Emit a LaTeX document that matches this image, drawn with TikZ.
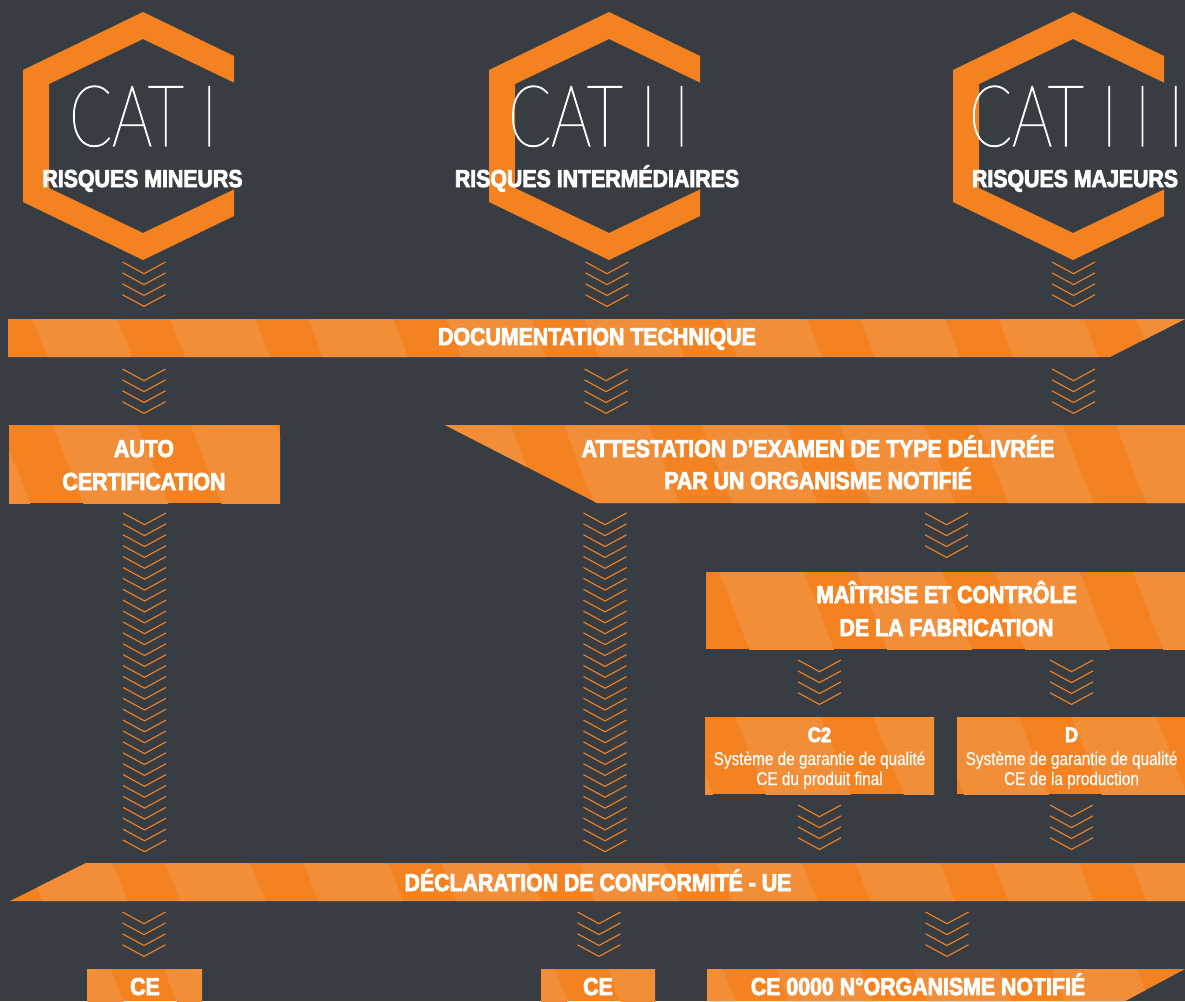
\documentclass[tikz,border=0pt]{standalone}
\usepackage{fontspec}
\setmainfont{Liberation Sans}
\newfontfamily\condbf{Liberation Sans Bold}[FakeStretch=0.87,FakeBold=3.2]
\newfontfamily\condrm{Liberation Sans}[FakeStretch=0.83,FakeBold=0.4]
\IfFontExistsTF{Lato Thin}{\newfontfamily\thinf{Lato Thin}[FakeStretch=0.74,FakeBold=1.2]}{%
 \IfFontExistsTF{Lato Hairline}{\newfontfamily\thinf{Lato Hairline}[FakeStretch=0.74,FakeBold=1.6]}{%
  \IfFontExistsTF{Lato Light}{\newfontfamily\thinf{Lato Light}[FakeStretch=0.74]}{\newfontfamily\thinf{DejaVu Sans}[FakeStretch=0.7]}}}
\definecolor{bg}{RGB}{56,60,67}
\definecolor{orD}{RGB}{245,130,32}
\definecolor{orL}{RGB}{242,141,56}
\newcommand\stripebox[2]{%
  \fill[orD] #1;
  \begin{scope}
    \clip #1;
    \foreach \k in {-5,...,12}{
      \fill[orL] ({#2+138*\k},-10) -- ++(85,0) -- ++(397.8,1020) -- ++(-85,0) -- cycle;
    }
  \end{scope}}
\newcommand\hexa[1]{%
  \begin{scope}
    \clip (#1-130,0) rectangle (#1+91,270);
    \fill[orD,even odd rule] (#1,12) -- (#1+120,70) -- (#1+120,202) -- (#1,260) -- (#1-120,202) -- (#1-120,70) -- cycle
      (#1,39) -- (#1+94,84) -- (#1+94,188) -- (#1,233) -- (#1-94,188) -- (#1-94,84) -- cycle;
  \end{scope}}
\newcommand\chevs[3]{%
  \foreach \k in {1,...,#3}{
    \draw[chev] (#1-21.5,{#2+(\k-1)*10.9}) -- ++(21.5,11.7) -- ++(21.5,-11.7);
  }}
\begin{document}
\begin{tikzpicture}[x=1pt,y=-1pt,
  title/.style={text=white,font=\condbf\fontsize{24.5}{24.5}\selectfont,inner sep=0pt,anchor=base},
  sub/.style={text=white,font=\condrm\fontsize{18.5}{18.5}\selectfont,inner sep=0pt,anchor=base},
  cat/.style={text=white,font=\thinf\fontsize{85}{85}\selectfont,inner sep=0pt,anchor=base west},
  chev/.style={draw=orD,line width=1.1pt,line cap=butt,line join=miter}]
\fill[bg] (0,0) rectangle (1185,1001);
\useasboundingbox (0,0) rectangle (1185,1001);

% hexagons
\hexa{143}
\hexa{609}
\hexa{1073}
\node[cat] (cat1) at (69,146) {CAT I};
\node[cat] (cat2) at (508,146) {CAT I I};
\node[cat] (cat3) at (969,146) {CAT I I I};
\node[title] (r1) at (142.5,187) {RISQUES MINEURS};
\node[title] (r2) at (597,187) {RISQUES INTERMÉDIAIRES};
\node[title] (r3) at (1075,187) {RISQUES MAJEURS};

% bands and boxes
\stripebox{(8,319) -- (1185,319) -- (1110,357) -- (8,357) -- cycle}{-96}
\stripebox{(9,425) rectangle (280,503)}{-117}
\stripebox{(445,425) -- (1185,425) -- (1185,503) -- (597,503) -- cycle}{-20}
\stripebox{(706,572) rectangle (1185,649)}{-60}
\stripebox{(705,717) rectangle (934,794)}{-100}
\stripebox{(957,717) rectangle (1185,794)}{-40}
\stripebox{(86,863) -- (1185,863) -- (1185,901) -- (10,901) -- cycle}{-37}
\stripebox{(87,969) rectangle (202,1001)}{-80}
\stripebox{(541,969) rectangle (655,1001)}{-50}
\stripebox{(707,969) -- (1185,969) -- (1125,1001) -- (707,1001) -- cycle}{-20}

\node[title] (doc) at (597,345) {DOCUMENTATION TECHNIQUE};
\node[title] (auto1) at (144,457) {AUTO};
\node[title] (auto2) at (144,490) {CERTIFICATION};
\node[title] (att1) at (818,457) {ATTESTATION D’EXAMEN DE TYPE DÉLIVRÉE};
\node[title] (att2) at (818,489) {PAR UN ORGANISME NOTIFIÉ};
\node[title] (mc1) at (946.5,603) {MAÎTRISE ET CONTRÔLE};
\node[title] (mc2) at (946.5,636) {DE LA FABRICATION};
\node[title,font=\condbf\fontsize{21}{21}\selectfont] (c2) at (819.5,742) {C2};
\node[sub] (c2a) at (819.5,765) {Système de garantie de qualité};
\node[sub] (c2b) at (819.5,785) {CE du produit final};
\node[title,font=\condbf\fontsize{21}{21}\selectfont] (d) at (1071.5,742) {D};
\node[sub] (da) at (1071.5,765) {Système de garantie de qualité};
\node[sub] (db) at (1071.5,785) {CE de la production};
\node[title] (decl) at (598,891) {DÉCLARATION DE CONFORMITÉ - UE};
\node[title] (ce1) at (145,995) {CE};
\node[title] (ce2) at (598,995) {CE};
\node[title] (ce3) at (918,995) {CE 0000 N°ORGANISME NOTIFIÉ};

% chevrons
\chevs{144}{262}{4}
\chevs{607}{262}{4}
\chevs{1073.5}{262}{4}
\chevs{144}{369}{4}
\chevs{606}{369}{4}
\chevs{1073.5}{369}{4}
\chevs{144.5}{513}{31}
\chevs{605}{513}{31}
\chevs{946.5}{513}{4}
\chevs{819.5}{660}{4}
\chevs{1071.5}{660}{4}
\chevs{819.5}{805}{4}
\chevs{1071.5}{805}{4}
\chevs{144}{912}{4}
\chevs{599}{912}{4}
\chevs{947}{912}{4}
\end{tikzpicture}
\end{document}
